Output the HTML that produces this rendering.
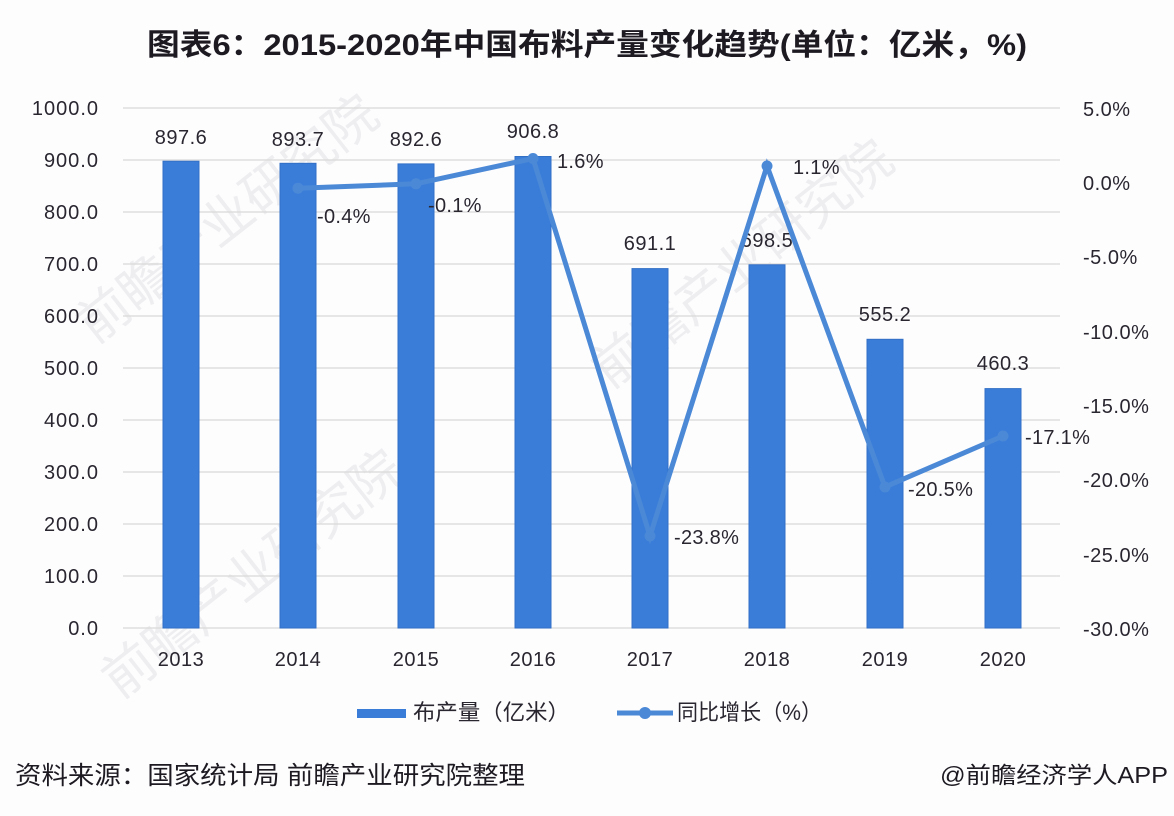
<!DOCTYPE html>
<html>
<head>
<meta charset="utf-8">
<style>
  html, body { margin: 0; padding: 0; background: #ffffff; }
  svg { display: block; }
  text { font-family: "Liberation Sans", "Noto Sans CJK SC", sans-serif; fill: #2a2630; }
</style>
</head>
<body>
<svg width="1174" height="816" viewBox="0 0 1174 816" xmlns="http://www.w3.org/2000/svg">
  <rect x="0" y="0" width="1174" height="816" fill="#fdfdfe"/>

  <!-- faint watermarks -->
  <g fill="#ececef" font-size="52" style="font-family:'Noto Sans CJK SC',sans-serif">
    <text x="95" y="345" transform="rotate(-38 95 345)" style="fill:#eeeef1">前瞻产业研究院</text>
    <text x="610" y="390" transform="rotate(-38 610 390)" style="fill:#eeeef1">前瞻产业研究院</text>
    <text x="120" y="700" transform="rotate(-38 120 700)" style="fill:#eeeef1">前瞻产业研究院</text>
  </g>

  <!-- title -->
  <text x="147" y="55" font-size="30" font-weight="bold" textLength="880" lengthAdjust="spacingAndGlyphs" style="fill:#1e1a22">图表6：2015-2020年中国布料产量变化趋势(单位：亿米，%)</text>

  <!-- gridlines -->
  <g stroke="#d9d9d9" stroke-width="1.3">
    <line x1="123" y1="108" x2="1060" y2="108"/>
    <line x1="123" y1="160" x2="1060" y2="160"/>
    <line x1="123" y1="212" x2="1060" y2="212"/>
    <line x1="123" y1="264" x2="1060" y2="264"/>
    <line x1="123" y1="316" x2="1060" y2="316"/>
    <line x1="123" y1="368" x2="1060" y2="368"/>
    <line x1="123" y1="420" x2="1060" y2="420"/>
    <line x1="123" y1="472" x2="1060" y2="472"/>
    <line x1="123" y1="524" x2="1060" y2="524"/>
    <line x1="123" y1="576" x2="1060" y2="576"/>
    <line x1="123" y1="628" x2="1060" y2="628"/>
  </g>

  <!-- left axis labels -->
  <g font-size="20" text-anchor="end" letter-spacing="1">
    <text x="99" y="115">1000.0</text>
    <text x="99" y="167">900.0</text>
    <text x="99" y="219">800.0</text>
    <text x="99" y="271">700.0</text>
    <text x="99" y="323">600.0</text>
    <text x="99" y="375">500.0</text>
    <text x="99" y="427">400.0</text>
    <text x="99" y="479">300.0</text>
    <text x="99" y="531">200.0</text>
    <text x="99" y="583">100.0</text>
    <text x="99" y="635">0.0</text>
  </g>

  <!-- right axis labels -->
  <g font-size="20" letter-spacing="0.5">
    <text x="1083" y="116">5.0%</text>
    <text x="1083" y="190">0.0%</text>
    <text x="1083" y="264">-5.0%</text>
    <text x="1083" y="339">-10.0%</text>
    <text x="1083" y="413">-15.0%</text>
    <text x="1083" y="487">-20.0%</text>
    <text x="1083" y="562">-25.0%</text>
    <text x="1083" y="636">-30.0%</text>
  </g>

  <!-- bars -->
  <g fill="#3a7dd9" stroke="#3270c6" stroke-width="1">
    <rect x="163" y="161.2" width="36" height="466.8"/>
    <rect x="280" y="163.3" width="36" height="464.7"/>
    <rect x="398" y="163.9" width="36" height="464.1"/>
    <rect x="515" y="156.5" width="36" height="471.5"/>
    <rect x="632" y="268.6" width="36" height="359.4"/>
    <rect x="749" y="264.8" width="36" height="363.2"/>
    <rect x="867" y="339.3" width="36" height="288.7"/>
    <rect x="985" y="388.6" width="36" height="239.4"/>
  </g>

  <!-- bar value labels -->
  <g font-size="20" text-anchor="middle" letter-spacing="0.5">
    <text x="181" y="144">897.6</text>
    <text x="298" y="146">893.7</text>
    <text x="416" y="146">892.6</text>
    <text x="533" y="138">906.8</text>
    <text x="650" y="250">691.1</text>
    <text x="767" y="247">698.5</text>
    <text x="885" y="321">555.2</text>
    <text x="1003" y="370">460.3</text>
  </g>

  <!-- growth line -->
  <polyline points="298,188.2 416,183.8 533,158.5 650,536 767,166 885,487 1003,436"
            fill="none" stroke="#4b89d7" stroke-width="5" stroke-linejoin="miter"/>
  <g fill="#4b89d7">
    <circle cx="298" cy="188.2" r="5.5"/>
    <circle cx="416" cy="183.8" r="5.5"/>
    <circle cx="533" cy="158.5" r="5.5"/>
    <circle cx="650" cy="536" r="5.5"/>
    <circle cx="767" cy="166" r="5.5"/>
    <circle cx="885" cy="487" r="5.5"/>
    <circle cx="1003" cy="436" r="5.5"/>
  </g>

  <!-- line labels -->
  <g font-size="20" letter-spacing="0.3">
    <text x="317" y="223">-0.4%</text>
    <text x="428" y="212">-0.1%</text>
    <text x="557" y="168">1.6%</text>
    <text x="793" y="174">1.1%</text>
    <text x="674" y="544">-23.8%</text>
    <text x="908" y="496">-20.5%</text>
    <text x="1025" y="444">-17.1%</text>
  </g>

  <!-- x axis labels -->
  <g font-size="20" text-anchor="middle" letter-spacing="0.5">
    <text x="181" y="666">2013</text>
    <text x="298" y="666">2014</text>
    <text x="416" y="666">2015</text>
    <text x="533" y="666">2016</text>
    <text x="650" y="666">2017</text>
    <text x="767" y="666">2018</text>
    <text x="885" y="666">2019</text>
    <text x="1003" y="666">2020</text>
  </g>

  <!-- legend -->
  <rect x="357" y="709" width="49" height="9" fill="#3a7dd9"/>
  <text x="413" y="720" font-size="22" textLength="157" lengthAdjust="spacingAndGlyphs">布产量（亿米）</text>
  <line x1="617" y1="713" x2="673" y2="713" stroke="#4b89d7" stroke-width="5"/>
  <circle cx="645" cy="713" r="6" fill="#4b89d7"/>
  <text x="677" y="720" font-size="22" textLength="145" lengthAdjust="spacingAndGlyphs">同比增长（%）</text>

  <!-- footer -->
  <text x="15" y="784" font-size="25" textLength="510" lengthAdjust="spacingAndGlyphs" style="fill:#1e1a22">资料来源：国家统计局 前瞻产业研究院整理</text>
  <text x="940" y="783" font-size="23" textLength="228" lengthAdjust="spacingAndGlyphs" style="fill:#1e1a22">@前瞻经济学人APP</text>
</svg>
</body>
</html>
